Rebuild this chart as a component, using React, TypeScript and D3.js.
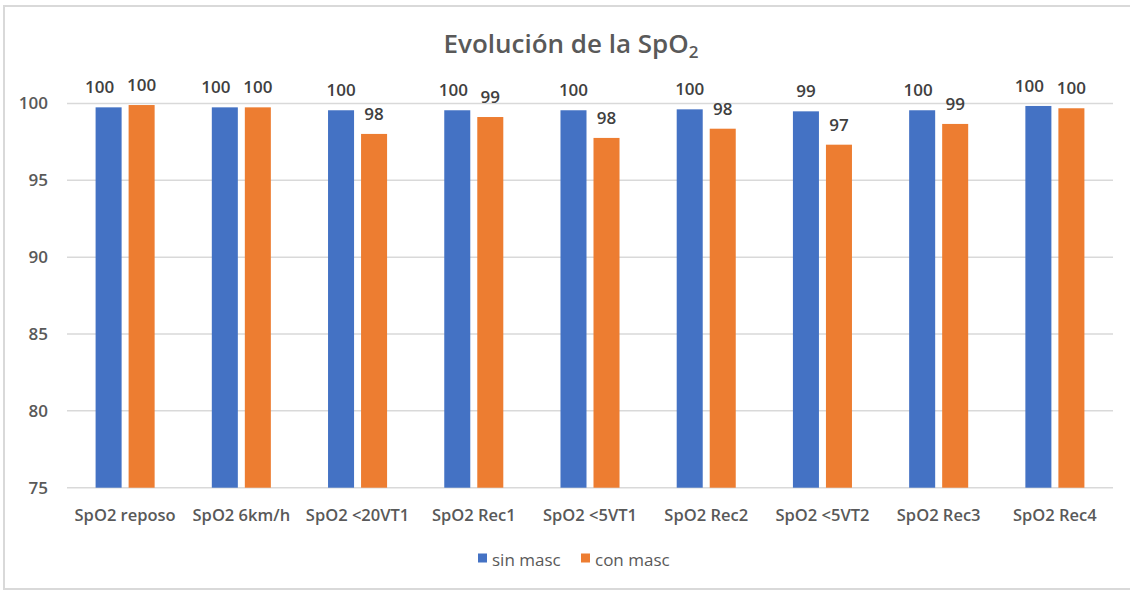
import React from 'react';
import * as d3 from 'd3';

const categories = ['SpO2 reposo', 'SpO2 6km/h', 'SpO2 <20VT1', 'SpO2 Rec1', 'SpO2 <5VT1', 'SpO2 Rec2', 'SpO2 <5VT2', 'SpO2 Rec3', 'SpO2 Rec4'];
const seriesNames = ['sin masc', 'con masc'];
const sinMasc = [99.75, 99.75, 99.56, 99.56, 99.56, 99.62, 99.49, 99.56, 99.84];
const conMasc = [99.9, 99.75, 98.02, 99.12, 97.76, 98.36, 97.32, 98.67, 99.69];
const yTicks = [75, 80, 85, 90, 95, 100];
const colors = ['#4472C4', '#ED7D31'];

const width = 1130;
const height = 590;
const font = '"Open Sans", "Noto Sans", sans-serif';

export default function App() {
    const series = [sinMasc, conMasc];

    // scales
    const x0 = d3.scaleBand(categories, [67, 1113]).paddingInner(0.492).paddingOuter(0.246);
    const x1 = d3.scaleBand(seriesNames, [0, x0.bandwidth()]).paddingInner(0.212);
    const y = d3.scaleLinear([75, 100], [487.7, 103.5]);
    const fmt = d3.format('.0f');

    // label positions, with a little nudge when the two labels of a group collide
    const charW = 10;
    const labels = categories.map((c, i) => {
        const items = series.map((s, j) => ({
            text: fmt(s[i]),
            x: x0(c)! + x1(seriesNames[j])! + x1.bandwidth() / 2,
            y: y(s[i]) - 14,
            color: colors[j]
        }));
        const a = items[0], b = items[1];
        const wa = a.text.length * charW, wb = b.text.length * charW;
        const need = (wa + wb) / 2 + 12;
        if (Math.abs(a.y - b.y) < 14 && b.x - a.x < need) {
            a.x -= need - (b.x - a.x);
        }
        return items;
    });

    return (
        <svg width={width} height={height} style={{position: 'absolute', left: 0, top: 0, fontFamily: font}}>
            <rect x={0} y={0} width={width} height={height} fill="#fff"/>
            <rect x={4} y={6} width={1130} height={583} fill="none" stroke="#d9d9d9" strokeWidth={2}/>

            <text x={571} y={53} textAnchor="middle" fontSize={26} fontWeight={600} fill="#595959">
                Evolución de la SpO<tspan fontSize={17} dy={5}>2</tspan>
            </text>

            {/* grid + y axis */}
            {yTicks.map(t => (
                <g key={t}>
                    <line x1={67} x2={1113} y1={y(t)} y2={y(t)} stroke="#d9d9d9" strokeWidth={1.5}/>
                    <text x={48} y={y(t)} dy="0.35em" textAnchor="end" fontSize={17} fontWeight={600} fill="#595959">{t}</text>
                </g>
            ))}

            {/* bars */}
            {categories.map((c, i) => (
                <g key={c} transform={`translate(${x0(c)},0)`}>
                    {series.map((s, j) => (
                        <rect key={j} x={x1(seriesNames[j])} y={y(s[i])} width={x1.bandwidth()}
                              height={y(75) - y(s[i])} fill={colors[j]}/>
                    ))}
                    <text x={x0.bandwidth() / 2} y={521} textAnchor="middle" fontSize={16.5} fontWeight={600} fill="#595959">{c}</text>
                </g>
            ))}

            {/* data labels */}
            {labels.flat().map((l, k) => (
                <text key={k} x={l.x} y={l.y} textAnchor="middle" fontSize={17} fontWeight={600} fill="#404040">{l.text}</text>
            ))}

            {/* legend */}
            {seriesNames.map((n, j) => (
                <g key={n} transform={`translate(${478 + j * 103},0)`}>
                    <rect x={0} y={553.5} width={9} height={9} fill={colors[j]}/>
                    <text x={14} y={566} fontSize={17} fill="#595959">{n}</text>
                </g>
            ))}
        </svg>
    );
}
